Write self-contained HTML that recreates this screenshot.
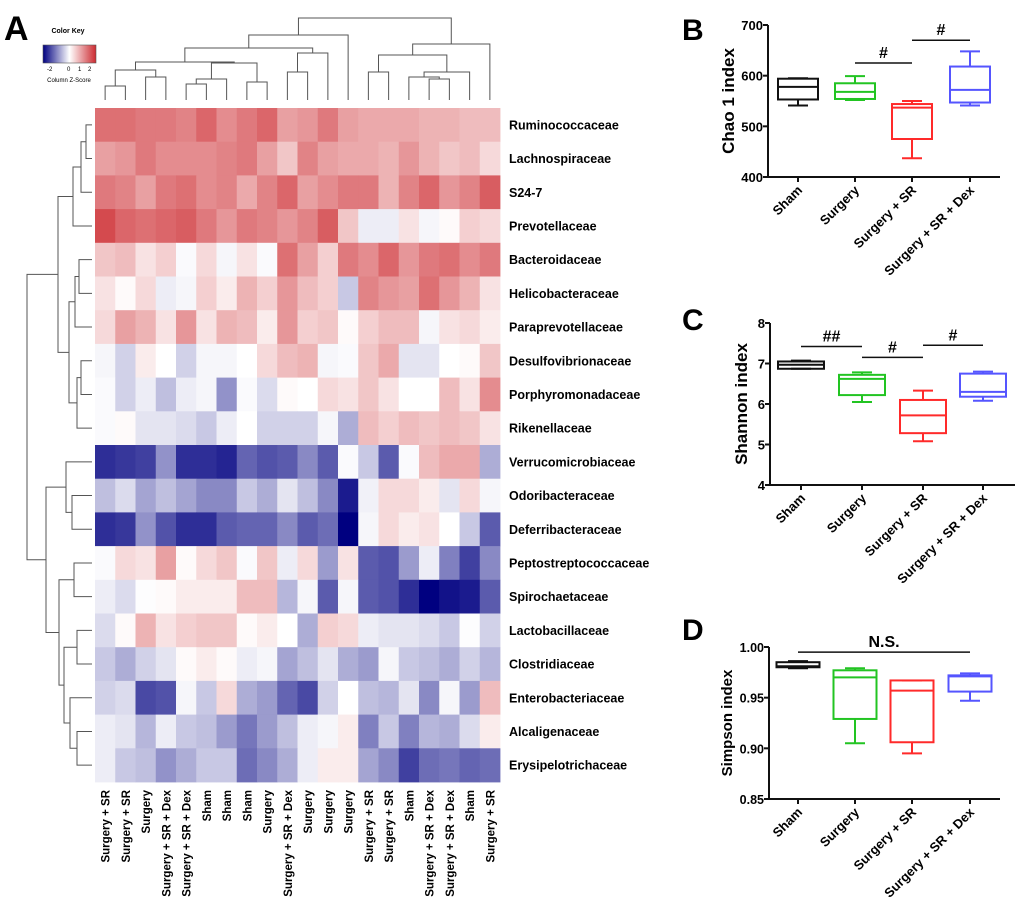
<!DOCTYPE html>
<html><head><meta charset="utf-8"><style>
html,body{margin:0;padding:0;background:#fff;}
svg{display:block;font-family:"Liberation Sans",Arial,sans-serif;}
</style></head><body>
<svg id="fig" width="1020" height="910" viewBox="0 0 1020 910" xmlns="http://www.w3.org/2000/svg">
<text x="4" y="40" font-size="34" font-weight="bold">A</text>
<text x="682" y="40" font-size="30" font-weight="bold">B</text>
<text x="682" y="330" font-size="30" font-weight="bold">C</text>
<text x="682" y="640" font-size="30" font-weight="bold">D</text>
<g>
<defs><linearGradient id="kg" x1="0" x2="1"><stop offset="0" stop-color="#000080"/><stop offset="0.5" stop-color="#fff"/><stop offset="1" stop-color="#cc2a30"/></linearGradient></defs>
<text x="68" y="33" font-size="7" font-weight="bold" text-anchor="middle">Color Key</text>
<rect x="43" y="45" width="53" height="18" fill="url(#kg)" stroke="#555" stroke-width="0.6"/>
<text x="47" y="71" font-size="6">-2</text>
<text x="67" y="71" font-size="6">0</text>
<text x="78" y="71" font-size="6">1</text>
<text x="88" y="71" font-size="6">2</text>
<text x="69" y="82" font-size="6" text-anchor="middle">Column Z-Score</text>
</g>
<g id="heat"></g>
<g id="cdend"></g>
<g id="rdend"></g>
<g id="pb"></g>
<g id="pc"></g>
<g id="pd"></g>
</svg>
<script>
const rowLabels=["Ruminococcaceae","Lachnospiraceae","S24-7","Prevotellaceae","Bacteroidaceae","Helicobacteraceae","Paraprevotellaceae","Desulfovibrionaceae","Porphyromonadaceae","Rikenellaceae","Verrucomicrobiaceae","Odoribacteraceae","Deferribacteraceae","Peptostreptococcaceae","Spirochaetaceae","Lactobacillaceae","Clostridiaceae","Enterobacteriaceae","Alcaligenaceae","Erysipelotrichaceae"];
const colLabels=["Surgery + SR","Surgery + SR","Surgery","Surgery + SR + Dex","Surgery + SR + Dex","Sham","Sham","Sham","Surgery","Surgery + SR + Dex","Surgery","Surgery","Surgery","Surgery + SR","Surgery + SR","Sham","Surgery + SR + Dex","Surgery + SR + Dex","Sham","Surgery + SR"];
const zRuminococcaceae=[1.5,1.5,1.4,1.4,1.3,1.6,1.2,1.4,1.6,1.0,1.1,1.4,1.0,0.9,0.9,0.9,0.8,0.8,0.7,0.7];
const zLachnospiraceae=[1.0,1.1,1.4,1.2,1.2,1.2,1.3,1.4,1.0,0.6,1.3,1.0,0.9,0.9,0.8,1.1,0.8,0.6,0.7,0.4];
const zS247=[1.4,1.3,1.0,1.4,1.5,1.2,1.3,0.9,1.3,1.6,1.0,1.2,1.4,1.4,0.8,1.3,1.6,1.1,1.3,1.7];
const zPrevotellaceae=[1.9,1.6,1.5,1.6,1.7,1.4,1.1,1.4,1.3,1.1,1.3,1.7,0.6,-0.2,-0.2,0.3,-0.1,0.05,0.5,0.4];
const zBacteroidaceae=[0.6,0.7,0.3,0.5,-0.05,0.4,-0.1,0.3,-0.05,1.5,1.0,0.5,1.4,1.2,1.6,1.1,1.4,1.5,1.2,1.4];
const zHelicobacteraceae=[0.3,0.05,0.4,-0.2,-0.1,0.5,0.2,0.8,0.5,1.1,0.7,0.5,-0.6,1.3,1.1,1.0,1.5,1.1,0.8,0.3];
const zParaprevotellaceae=[0.4,1.0,0.8,0.3,1.1,0.3,0.8,0.7,0.2,1.1,0.5,0.6,0.05,0.5,0.7,0.7,-0.1,0.3,0.4,0.2];
const zDesulfovibrionaceae=[-0.1,-0.5,0.2,0,-0.5,-0.1,-0.1,0,0.4,0.7,0.8,-0.1,-0.05,0.6,0.9,-0.3,-0.3,0,0.05,0.6];
const zPorphyromonadaceae=[-0.05,-0.5,-0.2,-0.7,-0.2,-0.1,-1.2,-0.05,-0.4,0.05,0,0.4,0.3,0.6,0.3,0,0,0.7,0.3,1.2];
const zRikenellaceae=[-0.05,0.05,-0.3,-0.3,-0.4,-0.6,-0.2,0,-0.5,-0.5,-0.5,-0.1,-0.9,0.7,0.5,0.7,0.6,0.7,0.6,0.3];
const zVerrucomicrobiaceae=[-2.3,-2.2,-2.1,-1.2,-2.3,-2.3,-2.4,-1.7,-1.9,-1.8,-1.3,-1.8,-0.05,-0.6,-1.8,-0.05,0.7,0.9,0.9,-0.9];
const zOdoribacteraceae=[-0.7,-0.4,-1.0,-0.7,-1.0,-1.3,-1.3,-0.6,-0.9,-0.3,-0.7,-1.3,-2.5,-0.15,0.4,0.4,0.2,-0.3,0.4,-0.1];
const zDeferribacteraceae=[-2.3,-2.2,-1.2,-1.9,-2.3,-2.3,-1.8,-1.7,-1.7,-1.3,-1.8,-1.6,-2.8,-0.1,0.4,0.2,0.3,0,-0.6,-1.8];
const zPeptostreptococcaceae=[-0.05,0.4,0.3,1.0,0.05,0.4,0.6,-0.05,0.6,-0.2,0.4,-1.1,0.3,-1.8,-1.9,-1.1,-0.2,-1.4,-2.1,-1.3];
const zSpirochaetaceae=[-0.2,-0.4,-0.02,0.05,0.2,0.2,0.2,0.7,0.7,-0.8,-0.1,-1.8,-0.1,-1.8,-1.9,-2.3,-2.8,-2.6,-2.5,-1.8];
const zLactobacillaceae=[-0.4,0.05,0.8,0.3,0.5,0.6,0.6,0.05,0.2,0,-0.9,0.5,0.4,-0.2,-0.3,-0.3,-0.4,-0.6,-0.02,-0.5];
const zClostridiaceae=[-0.6,-0.9,-0.5,-0.3,0.05,0.2,0.05,-0.2,-0.1,-1.0,-0.7,-0.3,-0.9,-1.1,-0.1,-0.6,-0.7,-0.9,-0.5,-0.8];
const zEnterobacteriaceae=[-0.5,-0.4,-2.0,-1.9,-0.1,-0.6,0.4,-0.9,-1.1,-1.7,-2.0,-0.5,0,-0.7,-0.8,-0.3,-1.3,-0.1,-1.1,0.7];
const zAlcaligenaceae=[-0.2,-0.3,-0.8,-0.2,-0.6,-0.7,-1.1,-1.5,-1.1,-0.7,-0.2,-0.1,0.2,-1.4,-0.6,-1.4,-0.8,-0.9,-0.4,0.2];
const zErysipelotrichaceae=[-0.2,-0.6,-0.7,-1.2,-0.9,-0.6,-0.6,-1.6,-1.3,-0.9,-0.2,0.2,0.2,-1.0,-1.3,-2.1,-1.6,-1.5,-1.7,-1.6];
const heatRows=[zRuminococcaceae,zLachnospiraceae,zS247,zPrevotellaceae,zBacteroidaceae,zHelicobacteraceae,zParaprevotellaceae,zDesulfovibrionaceae,zPorphyromonadaceae,zRikenellaceae,zVerrucomicrobiaceae,zOdoribacteraceae,zDeferribacteraceae,zPeptostreptococcaceae,zSpirochaetaceae,zLactobacillaceae,zClostridiaceae,zEnterobacteriaceae,zAlcaligenaceae,zErysipelotrichaceae];
// dendrogram merges: [left, right, height]
const colTree=[[[[[[0,1,86],[2,3,77],70],[[[4,5,84],6,79],[7,8,82],63],62],[[9,10,72],11,53],48],12,35],[[[13,14,72],[[15,[16,17,79],77],18,72],55],19,44],18];
const rowTree=[[[[[[0,1,86],2,81],3,73],[[[4,5,79],6,75],[[7,8,81],9,77],69],58],[[10,[11,12,72],66],[[13,14,74],[[15,16,77],[17,[18,19,77],70],64],59],46],27]];
// box plots: [min, q1, median, q3, max]
const groups=["Sham","Surgery","Surgery + SR","Surgery + SR + Dex"];
const chaoStats=[[541,553,578,594,595],[552,554,568,585,599],[437,475,537,544,550],[541,547,572,618,648]];
const chaoTicks=[400,500,600,700];
const shannonStats=[[6.87,6.87,6.97,7.05,7.07],[6.05,6.22,6.62,6.72,6.78],[5.08,5.28,5.72,6.1,6.33],[6.08,6.18,6.3,6.75,6.8]];
const shannonTicks=[4,5,6,7,8];
const simpsonStats=[[0.979,0.980,0.981,0.985,0.986],[0.905,0.929,0.970,0.977,0.979],[0.895,0.906,0.957,0.967,0.967],[0.947,0.956,0.971,0.972,0.974]];
const simpsonTicks=[0.85,0.90,0.95,1.00];
// significance: [fromGroup, toGroup, value, label]
const chaoSig=[[1,2,625,"#"],[2,3,670,"#"]];
const shannonSig=[[0,1,7.42,"##"],[1,2,7.15,"#"],[2,3,7.45,"#"]];
const simpsonSig=[[0,3,0.995,"N.S."]];

const NS="http://www.w3.org/2000/svg";
function mk(p,tag,a){const e=document.createElementNS(NS,tag);for(const k in a)e.setAttribute(k,a[k]);p.appendChild(e);return e;}
function colorOf(v){
  if(v>=0){const t=Math.min(v/2.2,1);return `rgb(${Math.round(255+(205-255)*t)},${Math.round(255+(45-255)*t)},${Math.round(255+(50-255)*t)})`;}
  const t=Math.min(-v/2.8,1);return `rgb(${Math.round(255*(1-t))},${Math.round(255*(1-t))},${Math.round(255+(128-255)*t)})`;
}
const hx0=95,cw=20.25,hy0=108,rh=33.7;
const colX=i=>hx0+cw*(i+0.5), rowY=i=>hy0+rh*(i+0.5);
const heat=document.getElementById('heat');
heatRows.forEach((row,r)=>{row.forEach((v,c)=>{
  const e=mk(heat,'rect',{x:hx0+c*cw,y:hy0+r*rh,width:cw+0.4,height:rh+0.4,fill:colorOf(v)});
  
  
});});
rowLabels.forEach((l,r)=>{const t=mk(heat,'text',{x:509,y:rowY(r)+4.5,'font-size':12.5,'font-weight':'bold'});t.textContent=l;
  
  });
colLabels.forEach((l,c)=>{const x=colX(c)+4.5;const t=mk(heat,'text',{x:x,y:790,'font-size':11.5,'font-weight':'bold','text-anchor':'end',transform:`rotate(-90 ${x} 790)`});t.textContent=l;
  
  });
const cd=document.getElementById('cdend');
function drawCol(n){ if(typeof n==='number') return [colX(n),100];
  const a=drawCol(n[0]),b=drawCol(n[1]),h=n[2];
  const p=mk(cd,'path',{d:`M${a[0]},${a[1]}V${h}H${b[0]}V${b[1]}`,fill:'none',stroke:'#555','stroke-width':1});
  
  
  return [(a[0]+b[0])/2,h];}
drawCol(colTree);
const rd=document.getElementById('rdend');
function drawRow(n){ if(typeof n==='number') return [92,rowY(n)];
  const a=drawRow(n[0]),b=drawRow(n[1]),h=n[2];
  const p=mk(rd,'path',{d:`M${a[0]},${a[1]}H${h}V${b[1]}H${b[0]}`,fill:'none',stroke:'#555','stroke-width':1});
  
  
  return [h,(a[1]+b[1])/2];}
drawRow(rowTree[0]);
const colors=["#111","#22c422","#ff2a2a","#5555ff"];
function boxPlot(gid,cfg){
  const g=document.getElementById(gid);
  const y=v=>cfg.yb+(v-cfg.ticks[0])/(cfg.ticks[cfg.ticks.length-1]-cfg.ticks[0])*(cfg.yt-cfg.yb);
  mk(g,'path',{d:`M${cfg.ax},${cfg.yt}V${cfg.yb}H${cfg.xe}`,fill:'none',stroke:'#111','stroke-width':2});
  cfg.ticks.forEach(t=>{mk(g,'line',{x1:cfg.ax-5,x2:cfg.ax,y1:y(t),y2:y(t),stroke:'#111','stroke-width':2});
    const tx=mk(g,'text',{x:cfg.ax-5,y:y(t)+5,'font-size':cfg.kfs,'font-weight':'bold','text-anchor':'end'});tx.textContent=cfg.fmt(t);
    
    });
  const yt=mk(g,'text',{x:cfg.tx,y:(cfg.yt+cfg.yb)/2,'font-size':cfg.tfs,'font-weight':'bold','text-anchor':'middle',transform:`rotate(-90 ${cfg.tx} ${(cfg.yt+cfg.yb)/2})`});yt.textContent=cfg.title;
  
  
  cfg.stats.forEach((s,i)=>{const cx=cfg.cx[i],w=cfg.bw/2,c=colors[i];
    mk(g,'line',{x1:cx,x2:cx,y1:cfg.yb,y2:cfg.yb+5,stroke:'#111','stroke-width':2});
    const bg=mk(g,'g',{fill:'none',stroke:c,'stroke-width':2});
    
    
    mk(bg,'path',{d:`M${cx},${y(s[0])}V${y(s[1])}M${cx},${y(s[3])}V${y(s[4])}M${cx-10},${y(s[0])}H${cx+10}M${cx-10},${y(s[4])}H${cx+10}`});
    mk(bg,'rect',{x:cx-w,y:y(s[3]),width:cfg.bw,height:y(s[1])-y(s[3])});
    mk(bg,'line',{x1:cx-w,x2:cx+w,y1:y(s[2]),y2:y(s[2])});
    const lx=cx+5,ly=cfg.yb+14;
    const t=mk(g,'text',{x:lx,y:ly,'font-size':13,'font-weight':'bold','text-anchor':'end',transform:`rotate(-45 ${lx} ${ly})`});t.textContent=groups[i];
    
    });
  cfg.sig.forEach(s=>{const x1=cfg.cx[s[0]],x2=cfg.cx[s[1]],yy=y(s[2]);
    const l=mk(g,'line',{x1:x1,x2:x2,y1:yy,y2:yy,stroke:'#111','stroke-width':1.5});
    
    
    const t=mk(g,'text',{x:(x1+x2)/2,y:yy-5,'font-size':16,'font-weight':'bold','text-anchor':'middle'});t.textContent=s[3];
    
    });
}
boxPlot('pb',{stats:chaoStats,ticks:chaoTicks,sig:chaoSig,ax:768,xe:1000,yt:25,yb:177,cx:[798,855,912,970],bw:40,tx:734,tfs:17,kfs:13,title:"Chao 1 index",fmt:t=>String(t)});
boxPlot('pc',{stats:shannonStats,ticks:shannonTicks,sig:shannonSig,ax:770,xe:1015,yt:323,yb:485,cx:[801,862,923,983],bw:46,tx:747,tfs:17,kfs:13,title:"Shannon index",fmt:t=>String(t)});
boxPlot('pd',{stats:simpsonStats,ticks:simpsonTicks,sig:simpsonSig,ax:769,xe:1000,yt:647,yb:799,cx:[798,855,912,970],bw:43,tx:732,tfs:15,kfs:12.5,title:"Simpson index",fmt:t=>t.toFixed(2)});
</script>
</body></html>
